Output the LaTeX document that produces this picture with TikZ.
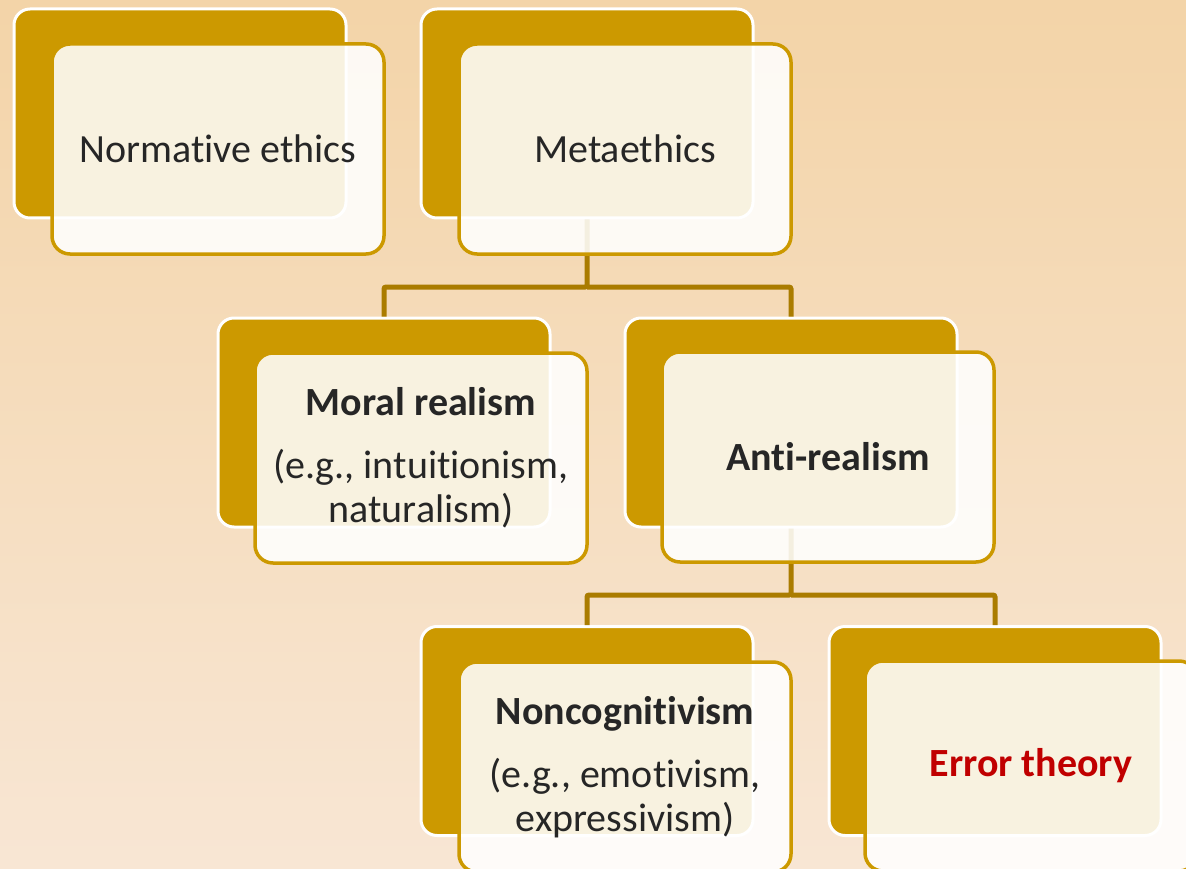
\documentclass[tikz,border=0pt]{standalone}
\usepackage{fontspec}
\setmainfont[Ligatures={NoCommon}]{Carlito}
\definecolor{gold}{RGB}{204,153,0}
\definecolor{conncol}{RGB}{170,124,0}
\definecolor{bgtop}{RGB}{243,212,168}
\definecolor{bgbot}{RGB}{248,230,212}
\definecolor{txt}{RGB}{38,38,38}
\definecolor{errred}{RGB}{192,0,0}
\tikzset{
  backbox/.style={rectangle, rounded corners=16pt, fill=gold, draw=white, line width=3pt,
    minimum width=332pt, minimum height=209pt, inner sep=0pt},
  frontbox/.style={rectangle, rounded corners=18pt, fill=white, fill opacity=0.88, text opacity=1,
    draw=gold, draw opacity=1, line width=3.5pt, minimum width=332pt, minimum height=210pt,
    inner sep=0pt, align=center, text=txt, font=\fontsize{40}{44}\selectfont},
  conn/.style={draw=conncol, line width=5pt, rounded corners=2pt}
}
\begin{document}
\begin{tikzpicture}[x=1pt,y=-1pt]
\useasboundingbox (0,0) rectangle (1186,869);
\clip (0,0) rectangle (1186,869);
\shade[top color=bgtop, bottom color=bgbot] (0,0) rectangle (1186,869);
% back boxes
\node[backbox] (b1) at (180,113.5) {};
\node[backbox] (b2) at (587,113.5) {};
\node[backbox] (b3) at (384,422.5) {};
\node[backbox] (b4) at (791,422.5) {};
\node[backbox] (b5) at (587,731) {};
\node[backbox] (b6) at (995,731) {};
% connectors
\coordinate (j1) at (587,287);
\coordinate (j2) at (791,595);
\draw[conn] (b2.south) -- (j1) -| (b3.north);
\draw[conn] (j1) -| (b4.north);
\draw[conn] (b4.south) -- (j2) -| (b5.north);
\draw[conn] (j2) -| (b6.north);
% front boxes
\node[frontbox] (f1) at (218,149) {Normative ethics};
\node[frontbox] (f2) at (625,149) {Metaethics};
\node[frontbox] (f3) at (421,458) {\textbf{Moral realism}\\[19pt](e.g., intuitionism,\\naturalism)};
\node[frontbox] (f4) at (828,457) {\textbf{Anti-realism}};
\node[frontbox] (f5) at (625,767) {\textbf{Noncognitivism}\\[19pt](e.g., emotivism,\\expressivism)};
\node[frontbox, text=errred] (f6) at (1031,766) {\textbf{Error theory}};
\end{tikzpicture}
\end{document}
